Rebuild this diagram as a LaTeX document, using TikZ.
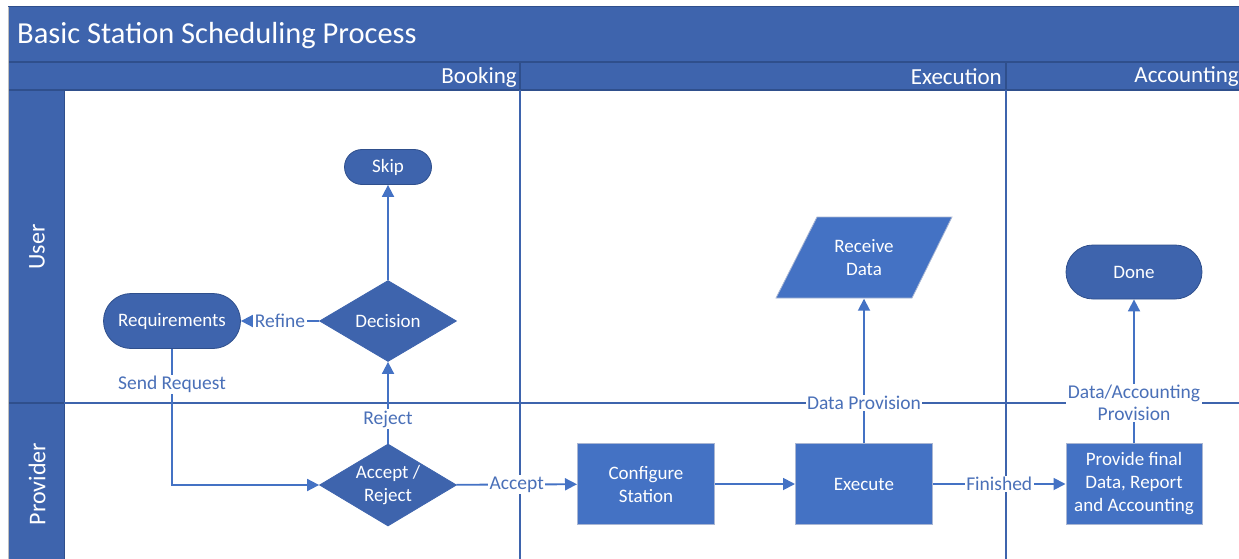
\documentclass[tikz,border=0pt]{standalone}
\usepackage{fontspec}
\setmainfont{Carlito}
\usetikzlibrary{shapes.geometric,shapes.misc,arrows.meta}
\definecolor{poolblue}{HTML}{3E64AD}
\definecolor{pooledge}{HTML}{2F4F8C}
\definecolor{stepblue}{HTML}{4472C4}
\definecolor{stepedge}{HTML}{A9B6D3}
\definecolor{flowblue}{HTML}{4472C4}
\definecolor{labelblue}{HTML}{4A70B8}
\definecolor{laneline}{HTML}{3E64AD}
\begin{document}
\begin{tikzpicture}[x=1pt,y=-1pt,
  base/.style={text=white, font=\fontsize{19}{23}\selectfont, align=center, inner sep=0pt},
  terminal/.style={base, rounded rectangle, fill=poolblue, draw=pooledge, line width=0.8pt},
  choice/.style={base, diamond, shape aspect=1.7, fill=poolblue, draw=poolblue, line width=0.8pt},
  process/.style={base, rectangle, fill=stepblue, draw=stepedge, line width=1pt},
  flow/.style={draw=flowblue, line width=1.8pt, -{Triangle[length=12pt,width=12pt]}},
  flowlabel/.style={fill=white, text=labelblue, font=\fontsize{19.5}{22}\selectfont, inner sep=1.5pt, align=center},
  headtext/.style={text=white, font=\fontsize{23}{27}\selectfont, inner sep=0pt},
  lanetext/.style={text=white, font=\fontsize{24}{28}\selectfont, inner sep=0pt, rotate=90},
]
\useasboundingbox (0,0) rectangle (1239,559);

% pool frame: title bar, phase header, lane column
\fill[poolblue] (8,7) rectangle (1245,90);
\fill[poolblue] (8,90) rectangle (64,565);
\draw[pooledge, line width=1pt] (8,7) -- (1245,7);
\draw[pooledge, line width=1.2pt] (8,62) -- (1245,62);
\draw[pooledge, line width=1.2pt] (8,90) -- (1245,90);
\draw[pooledge, line width=1.2pt] (8,403) -- (64,403);
\draw[pooledge, line width=1pt] (64,90) -- (64,565);
\draw[black!25, line width=0.8pt] (8,7) -- (8,565);
\draw[pooledge, line width=1.2pt] (520,62) -- (520,90);
\draw[pooledge, line width=1.2pt] (1006,62) -- (1006,90);

% lane and phase separators
\draw[laneline, line width=1.3pt] (64,403) -- (1245,403);
\draw[laneline, line width=1.3pt] (520,90) -- (520,565);
\draw[laneline, line width=1.3pt] (1006,90) -- (1006,565);

% titles
\node[headtext, anchor=west, font=\fontsize{30.5}{36}\selectfont] (title) at (17,36) {Basic Station Scheduling Process};
\node[headtext, anchor=east] (booking) at (517,77) {Booking};
\node[headtext, anchor=east] (execution) at (1002,77) {Execution};
\node[headtext, anchor=east] (accounting) at (1239,77) {Accounting};
\node[lanetext] (user) at (37,247) {User};
\node[lanetext] (provider) at (37,484) {Provider};

% process steps
\node[terminal, minimum width=87pt, minimum height=35pt] (skip) at (388,167) {Skip};
\node[choice, minimum width=137pt, minimum height=81pt] (decision) at (388,321) {Decision};
\node[terminal, minimum width=137pt, minimum height=55pt] (req) at (172,321) {Requirements};
\node[choice, minimum width=137pt, minimum height=82pt] (accrej) at (388,485) {Accept /\\Reject};
\node[process, minimum width=137pt, minimum height=81pt] (config) at (646,484) {Configure\\Station};
\node[process, minimum width=137pt, minimum height=81pt] (exec) at (864,484) {Execute};
\node[process, minimum width=136pt, minimum height=81pt] (final) at (1134,484) {Provide final\\Data, Report\\and Accounting};
\node[terminal, minimum width=136pt, minimum height=54pt] (done) at (1134,272) {Done};
\fill[stepblue] (776,298) -- (912,298) -- (952,217) -- (817,217) -- cycle;
\draw[stepedge, line width=0.8pt] (776,298) -- (912,298) -- (952,217) -- (817,217) -- cycle;
\node[base, minimum width=176pt, minimum height=81pt] (recv) at (864,258) {Receive\\Data};

% connectors
\draw[flow] (decision) -- (skip);
\draw[flow] (decision) -- node[flowlabel]{Refine} (req);
\draw[flow] (req.south) |- node[flowlabel, pos=0.131]{Send Request} (accrej.west);
\draw[flow] (accrej) -- node[flowlabel, pos=0.3]{Reject} (decision);
\draw[flow] (accrej) -- node[flowlabel]{Accept} (config);
\draw[flow] (config) -- (exec);
\draw[flow] (exec) -- node[flowlabel, pos=0.276]{Data Provision} (recv);
\draw[flow] (exec) -- node[flowlabel]{Finished} (final);
\draw[flow] (final) -- node[flowlabel, pos=0.278]{Data/Accounting\\Provision} (done);
\end{tikzpicture}
\end{document}
